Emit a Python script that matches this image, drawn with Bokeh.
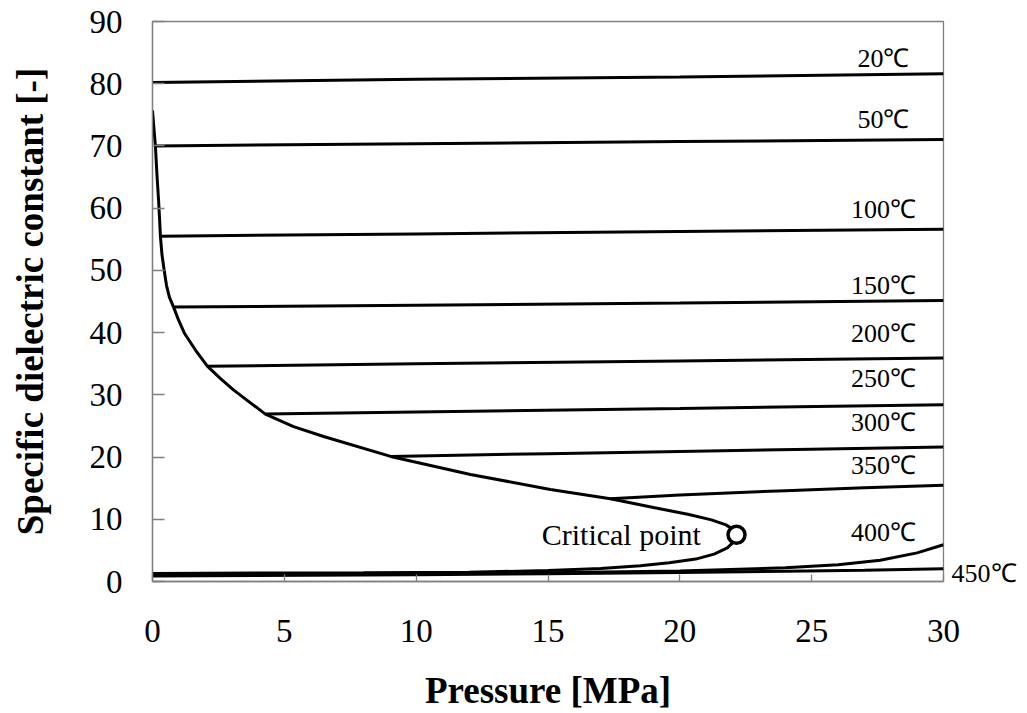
from bokeh.plotting import figure
from bokeh.models import Label, LinearAxis, FixedTicker, Range1d
from bokeh.embed import file_html
from bokeh.resources import INLINE

# Isotherms of water: pressure [MPa] vs. specific dielectric constant [-]
p_20, eps_20 = [0.0, 10.0, 20.0, 30.0], [80.2, 80.7, 81.1, 81.6]
p_50, eps_50 = [0.1, 10.0, 20.0, 30.0], [70.0, 70.35, 70.7, 71.05]
p_100, eps_100 = [0.30, 10.0, 20.0, 30.0], [55.5, 55.85, 56.25, 56.6]
p_150, eps_150 = [0.80, 10.0, 20.0, 30.0], [44.1, 44.4, 44.75, 45.15]
p_200, eps_200 = [2.08, 10.0, 20.0, 30.0], [34.6, 35.0, 35.45, 35.9]
p_250, eps_250 = [4.28, 10.0, 20.0, 30.0], [26.9, 27.25, 27.8, 28.4]
p_300, eps_300 = [9.03, 15.0, 20.0, 25.0, 30.0], [20.1, 20.55, 20.9, 21.25, 21.6]
p_350, eps_350 = [17.37, 20.0, 24.0, 27.0, 30.0], [13.3, 13.9, 14.6, 15.05, 15.45]
p_400, eps_400 = [0.0, 5.0, 10.0, 15.0, 20.0, 24.0, 26.0, 27.6, 29.0, 30.0], [1.1, 1.15, 1.25, 1.4, 1.7, 2.2, 2.7, 3.4, 4.6, 5.9]
p_450, eps_450 = [0.0, 10.0, 15.0, 20.0, 24.0, 27.0, 30.0], [0.9, 1.1, 1.25, 1.45, 1.65, 1.8, 2.05]

temp_labels = ["20℃", "50℃", "100℃", "150℃", "200℃", "250℃", "300℃", "350℃", "400℃", "450℃"]

# Saturation curve: liquid branch down to the critical point, vapour branch back to low pressure
sat_liq_p = [0.0, 0.06, 0.11, 0.17, 0.23, 0.27, 0.30, 0.36, 0.44, 0.53, 0.64, 0.80, 0.99, 1.21,
             1.63, 2.08, 2.58, 3.07, 4.28, 5.35, 6.49, 9.03, 12.06, 15.09, 17.37, 19.0, 20.3,
             21.2, 21.75, 22.05]
sat_liq_eps = [75.7, 72.5, 70.0, 65.3, 61.3, 58.1, 55.5, 52.5, 50.1, 47.6, 45.7, 44.1, 42.0, 39.9,
               37.2, 34.6, 32.6, 30.8, 26.9, 24.9, 23.3, 20.1, 17.2, 14.8, 13.3, 11.9, 10.8,
               9.9, 9.1, 8.3]
sat_vap_p = [22.05, 22.0, 21.8, 21.3, 20.6, 19.6, 18.5, 17.0, 15.0, 12.0, 8.0, 4.0, 0.0]
sat_vap_eps = [6.8, 6.2, 5.4, 4.4, 3.6, 3.0, 2.55, 2.1, 1.75, 1.5, 1.4, 1.35, 1.3]

crit_p, crit_eps = 22.15, 7.5

x_ticks = [0, 5, 10, 15, 20, 25, 30]
y_ticks = [0, 10, 20, 30, 40, 50, 60, 70, 80, 90]

SERIF = "Liberation Serif"
GRAY = "#7f7f7f"

p = figure(width=1027, height=713, output_backend="svg", toolbar_location=None,
           x_range=Range1d(0, 30), y_range=Range1d(0, 90),
           min_border_left=152, min_border_right=84, min_border_top=21, min_border_bottom=131)
p.grid.visible = False
p.outline_line_color = GRAY
p.outline_line_width = 1.3
p.background_fill_color = "white"
p.border_fill_color = "white"

for ax in (p.xaxis[0], p.yaxis[0]):
    ax.axis_line_color = GRAY
    ax.axis_line_width = 1.3
    ax.major_tick_line_color = GRAY
    ax.major_tick_line_width = 1.3
    ax.major_tick_out = 0
    ax.minor_tick_line_color = None
    ax.major_label_text_font = SERIF
    ax.major_label_text_font_size = "33px"
    ax.major_label_text_color = "black"
    ax.axis_label_text_font = SERIF
    ax.axis_label_text_font_style = "bold"
    ax.axis_label_text_font_size = "37px"
    ax.axis_label_text_color = "black"

p.xaxis.ticker = x_ticks
p.yaxis.ticker = y_ticks
p.xaxis.major_tick_in = 7
p.yaxis.major_tick_in = 12
p.xaxis.major_label_standoff = 38
p.yaxis.major_label_standoff = 30
p.xaxis.axis_label = "Pressure [MPa]"
p.yaxis.axis_label = "Specific dielectric constant [-]"
p.xaxis.axis_label_standoff = 25
p.yaxis.axis_label_standoff = 36

iso_series = [(p_20, eps_20), (p_50, eps_50), (p_100, eps_100), (p_150, eps_150),
              (p_200, eps_200), (p_250, eps_250), (p_300, eps_300), (p_350, eps_350),
              (p_400, eps_400), (p_450, eps_450)]
for px, py in iso_series:
    p.line(px, py, line_color="black", line_width=3)

p.line(sat_liq_p, sat_liq_eps, line_color="black", line_width=3)
p.line(sat_vap_p, sat_vap_eps, line_color="black", line_width=3)

p.scatter([crit_p], [crit_eps], marker="circle", size=17, fill_color="white",
          line_color="black", line_width=3.5)

# isotherm names inside the frame, near the right end of each line
label_x = [27.72] * 9
label_y = [84.1, 74.3, 59.8, 47.6, 39.9, 32.6, 25.6, 18.6, 7.9]
for lx, ly, txt in zip(label_x, label_y, temp_labels[:9]):
    p.add_layout(Label(x=lx, y=ly, text=txt, text_font=SERIF, text_font_size="26px",
                       text_color="black", text_align="center", text_baseline="middle"))

# the last isotherm is named just outside the right edge of the frame
right = LinearAxis(ticker=FixedTicker(ticks=[1.3]),
                   major_label_overrides={1.3: temp_labels[9]},
                   axis_line_color=None, major_tick_line_color=None,
                   minor_tick_line_color=None, major_tick_in=0, major_tick_out=0,
                   major_label_standoff=8,
                   major_label_text_font=SERIF, major_label_text_font_size="26px",
                   major_label_text_color="black")
p.add_layout(right, "right")

p.add_layout(Label(x=17.78, y=7.54, text="Critical point", text_font=SERIF,
                   text_font_size="30px", text_color="black",
                   text_align="center", text_baseline="middle"))

open("out.html", "w").write(file_html(p, INLINE))
